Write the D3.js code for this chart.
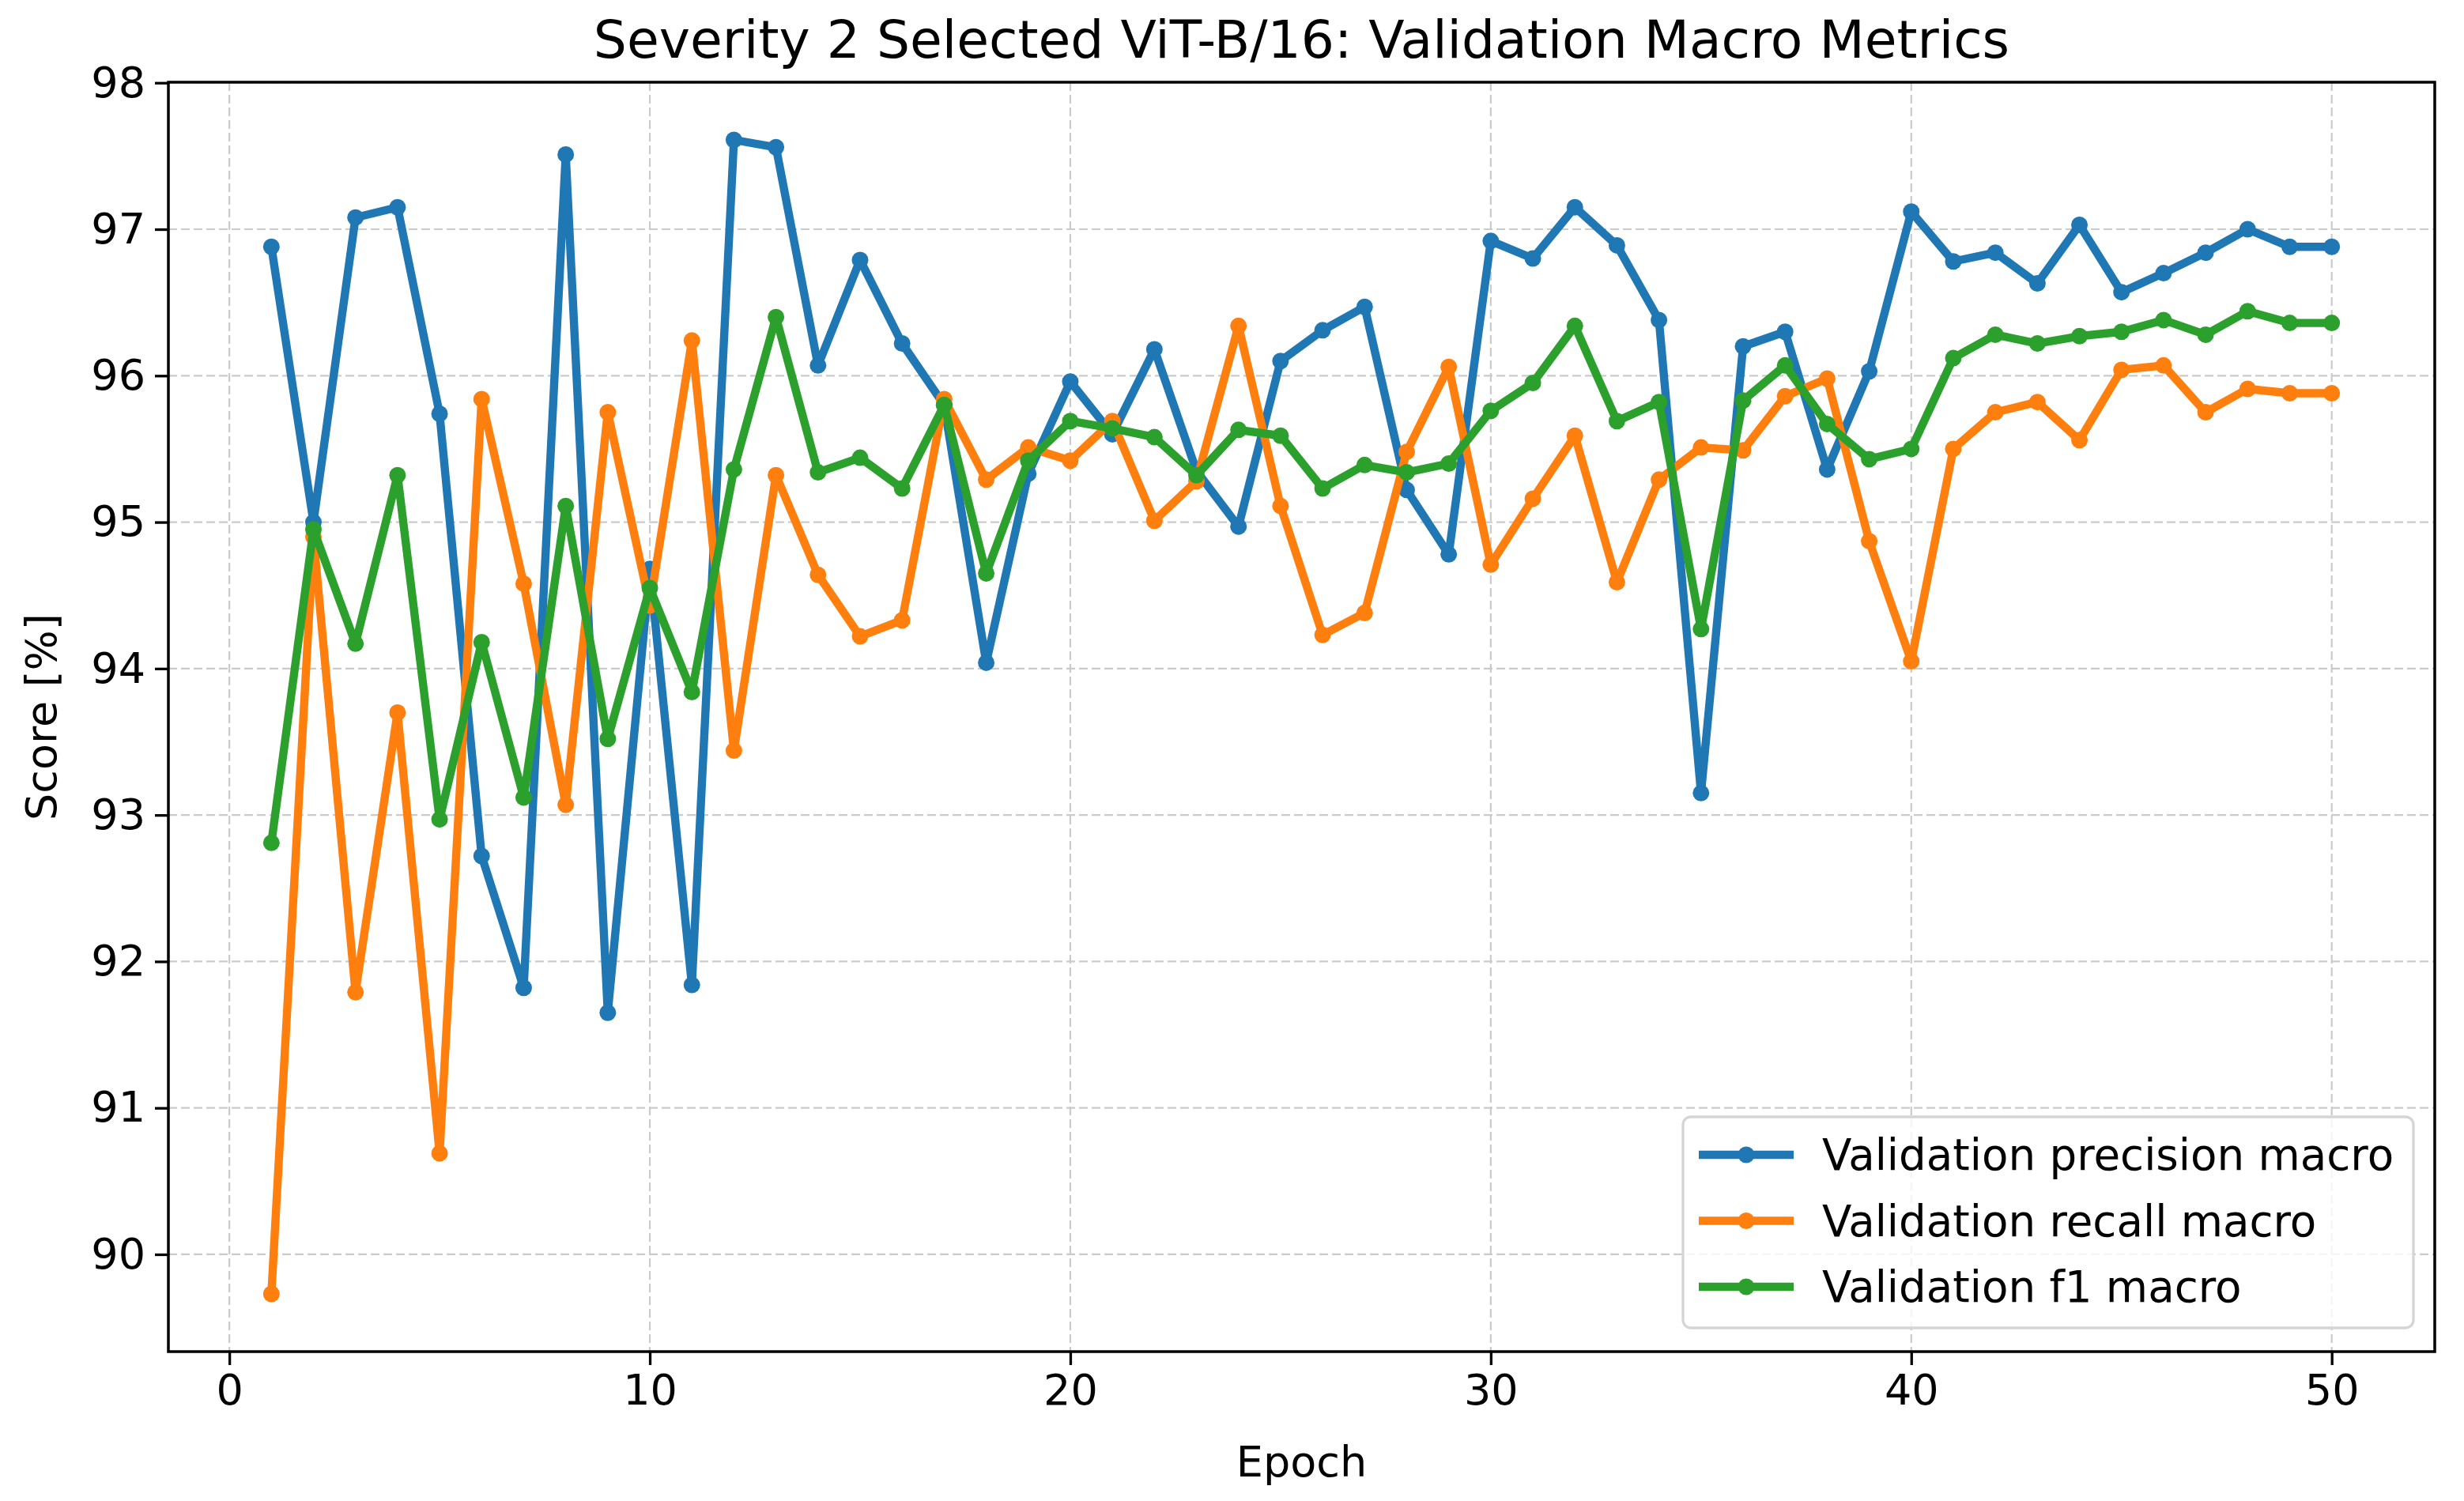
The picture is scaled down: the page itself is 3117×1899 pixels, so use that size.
<!DOCTYPE html>
<html>
<head>
<meta charset="utf-8">
<script src="https://cdn.jsdelivr.net/npm/d3@7"></script>
<style>
  body { margin: 0; background: #fff; }
  svg { display: block; font-family: "DejaVu Sans", sans-serif; }
</style>
</head>
<body>
<svg id="chart" width="3117" height="1899"></svg>
<script>
var epochs = [1, 2, 3, 4, 5, 6, 7, 8, 9, 10, 11, 12, 13, 14, 15, 16, 17, 18, 19, 20,
  21, 22, 23, 24, 25, 26, 27, 28, 29, 30, 31, 32, 33, 34, 35, 36, 37, 38, 39, 40,
  41, 42, 43, 44, 45, 46, 47, 48, 49, 50];

var precision = [96.88, 95.00, 97.08, 97.15, 95.74, 92.72, 91.82, 97.51, 91.65, 94.68,
  91.84, 97.61, 97.56, 96.07, 96.79, 96.22, 95.80, 94.04, 95.33, 95.96,
  95.60, 96.18, 95.35, 94.97, 96.10, 96.31, 96.47, 95.22, 94.78, 96.92,
  96.80, 97.15, 96.89, 96.38, 93.15, 96.20, 96.30, 95.36, 96.03, 97.12,
  96.78, 96.84, 96.63, 97.03, 96.57, 96.70, 96.84, 97.00, 96.88, 96.88];

var recall = [89.73, 94.90, 91.79, 93.70, 90.69, 95.84, 94.58, 93.07, 95.75, 94.43,
  96.24, 93.44, 95.32, 94.64, 94.22, 94.33, 95.84, 95.29, 95.51, 95.42,
  95.69, 95.01, 95.28, 96.34, 95.11, 94.23, 94.38, 95.48, 96.06, 94.71,
  95.16, 95.59, 94.59, 95.29, 95.51, 95.49, 95.86, 95.98, 94.87, 94.05,
  95.50, 95.75, 95.82, 95.56, 96.04, 96.07, 95.75, 95.91, 95.88, 95.88];

var f1 = [92.81, 94.95, 94.17, 95.32, 92.97, 94.18, 93.12, 95.11, 93.52, 94.55,
  93.84, 95.36, 96.40, 95.34, 95.44, 95.23, 95.80, 94.65, 95.42, 95.69,
  95.64, 95.58, 95.32, 95.63, 95.59, 95.23, 95.39, 95.34, 95.40, 95.76,
  95.95, 96.34, 95.69, 95.82, 94.27, 95.83, 96.07, 95.67, 95.43, 95.50,
  96.12, 96.28, 96.22, 96.27, 96.30, 96.38, 96.28, 96.44, 96.36, 96.36];

var seriesNames = ['Validation precision macro', 'Validation recall macro', 'Validation f1 macro'];
var seriesColors = ['#1f77b4', '#ff7f0e', '#2ca02c'];
var xTicks = [0, 10, 20, 30, 40, 50];
var yTicks = [90, 91, 92, 93, 94, 95, 96, 97, 98];

var title = 'Severity 2 Selected ViT-B/16: Validation Macro Metrics';
var xLabel = 'Epoch';
var yLabel = 'Score [%]';

// layout
var W = 3117, H = 1899;
var m = {top: 104, right: 37, bottom: 189, left: 213};
var iw = W - m.left - m.right, ih = H - m.top - m.bottom;
var fs = 54;
var dotR = 10.5;

var svg = d3.select('#chart');
var g = svg.append('g').attr('transform', 'translate(' + m.left + ',' + m.top + ')');

var series = [precision, recall, f1].map(function(vals, i) {
  return {name: seriesNames[i], color: seriesColors[i],
    pts: vals.map(function(v, j) { return {x: epochs[j], y: v}; })};
});

// matplotlib-like 5% padding
function padded(ext) {
  var p = (ext[1] - ext[0]) * 0.05;
  return [ext[0] - p, ext[1] + p];
}
var allY = precision.concat(recall, f1);
var x = d3.scaleLinear().domain(padded(d3.extent(epochs))).range([0, iw]);
var y = d3.scaleLinear().domain(padded(d3.extent(allY))).range([ih, 0]);

// grid
g.append('g').selectAll('line').data(xTicks).enter().append('line')
  .attr('x1', function(d) { return x(d); }).attr('x2', function(d) { return x(d); })
  .attr('y1', 0).attr('y2', ih)
  .attr('stroke', '#cbcbcb').attr('stroke-width', 2.2).attr('stroke-dasharray', '11,5');
g.append('g').selectAll('line').data(yTicks).enter().append('line')
  .attr('y1', function(d) { return y(d); }).attr('y2', function(d) { return y(d); })
  .attr('x1', 0).attr('x2', iw)
  .attr('stroke', '#cbcbcb').attr('stroke-width', 2.2).attr('stroke-dasharray', '11,5');

// lines + markers
var line = d3.line().x(function(d) { return x(d.x); }).y(function(d) { return y(d.y); });
series.forEach(function(s) {
  var sg = g.append('g');
  sg.append('path').datum(s.pts)
    .attr('d', line).attr('fill', 'none')
    .attr('stroke', s.color).attr('stroke-width', 10.4)
    .attr('stroke-linejoin', 'round').attr('stroke-linecap', 'butt');
  sg.selectAll('circle').data(s.pts).enter().append('circle')
    .attr('cx', function(d) { return x(d.x); })
    .attr('cy', function(d) { return y(d.y); })
    .attr('r', dotR).attr('fill', s.color);
});

// axes
function styleAxis(sel) {
  sel.select('.domain').remove();
  sel.selectAll('.tick line').attr('stroke', '#000').attr('stroke-width', 3.3);
  sel.selectAll('.tick text').attr('fill', '#000').attr('font-size', fs)
    .attr('font-family', '"DejaVu Sans", sans-serif');
}
g.append('g').attr('transform', 'translate(0,' + ih + ')')
  .call(d3.axisBottom(x).tickValues(xTicks).tickFormat(d3.format('d')).tickSizeOuter(0).tickSize(17).tickPadding(12))
  .call(styleAxis);
g.append('g')
  .call(d3.axisLeft(y).tickValues(yTicks).tickFormat(d3.format('d')).tickSizeOuter(0).tickSize(17).tickPadding(12))
  .call(styleAxis);

// frame
g.append('rect').attr('width', iw).attr('height', ih)
  .attr('fill', 'none').attr('stroke', '#000').attr('stroke-width', 3.5);

// titles
svg.append('text').attr('x', m.left + iw / 2).attr('y', 73)
  .attr('text-anchor', 'middle').attr('font-size', 66.3).text(title);
svg.append('text').attr('x', m.left + iw / 2).attr('y', 1868)
  .attr('text-anchor', 'middle').attr('font-size', fs).text(xLabel);
svg.append('text')
  .attr('transform', 'translate(71,' + (m.top + ih / 2) + ') rotate(-90)')
  .attr('text-anchor', 'middle').attr('font-size', fs).text(yLabel);

// legend
var lg = svg.append('g').attr('transform', 'translate(2129,1413)');
lg.append('rect').attr('width', 924).attr('height', 267).attr('rx', 10)
  .attr('fill', '#fff').attr('fill-opacity', 0.8)
  .attr('stroke', '#d5d5d5').attr('stroke-width', 3.3);
series.forEach(function(s, i) {
  var cy = 48 + i * 83.5;
  lg.append('line').attr('x1', 20).attr('x2', 140).attr('y1', cy).attr('y2', cy)
    .attr('stroke', s.color).attr('stroke-width', 10.4);
  lg.append('circle').attr('cx', 80).attr('cy', cy).attr('r', dotR).attr('fill', s.color);
  lg.append('text').attr('x', 176).attr('y', cy + 19).attr('font-size', 54.7).text(s.name);
});
</script>
</body>
</html>
